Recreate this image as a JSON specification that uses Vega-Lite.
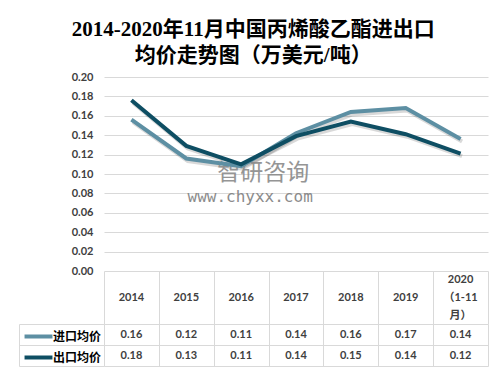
{
  "$schema": "https://vega.github.io/schema/vega-lite/v6.json",
  "padding": {"left": 18, "top": 19, "right": 13, "bottom": 5},
  "background": "white",
  "title": {
    "text": ["2014-2020年11月中国丙烯酸乙酯进出口", "均价走势图（万美元/吨）"],
    "font": "Liberation Serif, Noto Sans CJK SC",
    "fontSize": 21,
    "fontWeight": "bold",
    "color": "#000000",
    "lineHeight": 26,
    "anchor": "middle",
    "frame": "bounds",
    "offset": 5
  },
  "datasets": {
    "prices": [
      {"year": "2014", "series": "进口均价", "value": 0.156},
      {"year": "2015", "series": "进口均价", "value": 0.116},
      {"year": "2016", "series": "进口均价", "value": 0.108},
      {"year": "2017", "series": "进口均价", "value": 0.142},
      {"year": "2018", "series": "进口均价", "value": 0.164},
      {"year": "2019", "series": "进口均价", "value": 0.168},
      {"year": "2020", "series": "进口均价", "value": 0.136},
      {"year": "2014", "series": "出口均价", "value": 0.176},
      {"year": "2015", "series": "出口均价", "value": 0.129},
      {"year": "2016", "series": "出口均价", "value": 0.110},
      {"year": "2017", "series": "出口均价", "value": 0.139},
      {"year": "2018", "series": "出口均价", "value": 0.154},
      {"year": "2019", "series": "出口均价", "value": 0.141},
      {"year": "2020", "series": "出口均价", "value": 0.121}
    ],
    "years": [
      {"year": "2014", "label": "2014"},
      {"year": "2015", "label": "2015"},
      {"year": "2016", "label": "2016"},
      {"year": "2017", "label": "2017"},
      {"year": "2018", "label": "2018"},
      {"year": "2019", "label": "2019"},
      {"year": "2020", "label": "2020\n（1-11\n月）"}
    ],
    "wm1": [{"year": "2016", "value": 0.101, "t": "智研咨询"}],
    "wm2": [{"year": "2016", "value": 0.076, "t": "www.chyxx.com"}]
  },
  "vconcat": [
    {
      "width": 384,
      "height": 194,
      "encoding": {
        "x": {"field": "year", "type": "ordinal", "scale": {"type": "point", "padding": 0.5}, "axis": null},
        "y": {"field": "value", "type": "quantitative", "scale": {"domain": [0, 0.2], "nice": false},
          "axis": {"values": [0, 0.02, 0.04, 0.06, 0.08, 0.1, 0.12, 0.14, 0.16, 0.18, 0.2], "format": ".2f", "labelOverlap": false, "grid": true, "gridColor": "#d9d9d9", "ticks": false, "domain": false, "labelFont": "Lato", "labelFontWeight": "bold", "labelFontSize": 11, "labelColor": "#404040", "labelPadding": 11, "title": null}}
      },
      "layer": [
        {
          "data": {"name": "prices"},
          "mark": {"type": "line", "strokeWidth": 4, "color": "#000000", "opacity": 0.15, "xOffset": 1.5, "yOffset": 2.5},
          "encoding": {"detail": {"field": "series"}}
        },
        {
          "data": {"name": "wm1"},
          "mark": {"type": "text", "font": "Noto Sans CJK SC", "fontSize": 23, "color": "#8a8a8a", "opacity": 0.9, "dx": 22},
          "encoding": {"text": {"field": "t"}}
        },
        {
          "data": {"name": "wm2"},
          "mark": {"type": "text", "font": "DejaVu Sans Mono", "fontSize": 16, "color": "#808080", "opacity": 0.9, "dx": 9},
          "encoding": {"text": {"field": "t"}}
        },
        {
          "data": {"name": "prices"},
          "mark": {"type": "line", "strokeWidth": 4},
          "encoding": {
            "color": {"field": "series", "type": "nominal",
              "scale": {"domain": ["进口均价", "出口均价"], "range": ["#5d8fa3", "#0e4e63"]},
              "legend": {"orient": "none", "legendX": -78, "legendY": 247, "title": null, "direction": "vertical",
                "symbolType": "M-1.33,0H1.33", "symbolSize": 441, "symbolStrokeWidth": 4, "symbolFillColor": "transparent",
                "labelFont": "Noto Sans CJK SC", "labelFontSize": 12, "labelFontWeight": "bold", "labelColor": "#000000",
                "labelOffset": 2, "rowPadding": 0, "padding": 0}}
          }
        }
      ]
    },
    {
      "width": 384,
      "height": 53,
      "data": {"name": "years"},
      "encoding": {
        "x": {"field": "year", "type": "ordinal", "scale": {"type": "band"},
          "axis": {"grid": true, "tickBand": "extent", "gridColor": "#d9d9d9", "labels": false, "ticks": false, "domain": false, "title": null}},
        "text": {"field": "label"}
      },
      "layer": [
        {
          "transform": [{"filter": "datum.year != '2020'"}],
          "mark": {"type": "text", "font": "Lato, Noto Sans CJK SC", "fontSize": 11, "fontWeight": "bold", "color": "#404040"}
        },
        {
          "transform": [{"filter": "datum.year == '2020'"}],
          "mark": {"type": "text", "lineBreak": "\n", "font": "Lato, Noto Sans CJK SC", "fontSize": 11, "fontWeight": "bold", "color": "#404040", "lineHeight": 18, "dy": -18}
        }
      ]
    },
    {
      "width": 384,
      "height": 42,
      "data": {"name": "prices"},
      "mark": {"type": "text", "font": "Lato", "fontSize": 11, "fontWeight": "bold", "color": "#404040"},
      "encoding": {
        "x": {"field": "year", "type": "ordinal", "scale": {"type": "band"},
          "axis": {"grid": true, "tickBand": "extent", "gridColor": "#d9d9d9", "labels": false, "ticks": false, "domain": false, "title": null}},
        "y": {"field": "series", "type": "nominal", "scale": {"type": "band", "domain": ["进口均价", "出口均价"]},
          "axis": {"grid": true, "tickBand": "extent", "gridColor": "#d9d9d9", "labels": false, "ticks": true, "tickSize": -85, "tickColor": "#d9d9d9", "domain": true, "domainColor": "#d9d9d9", "offset": 85, "title": null}},
        "text": {"field": "value", "format": ".2f"}
      }
    }
  ],
  "spacing": 0,
  "bounds": "flush",
  "resolve": {"scale": {"x": "independent", "y": "independent"}},
  "config": {"view": {"stroke": null}}
}
